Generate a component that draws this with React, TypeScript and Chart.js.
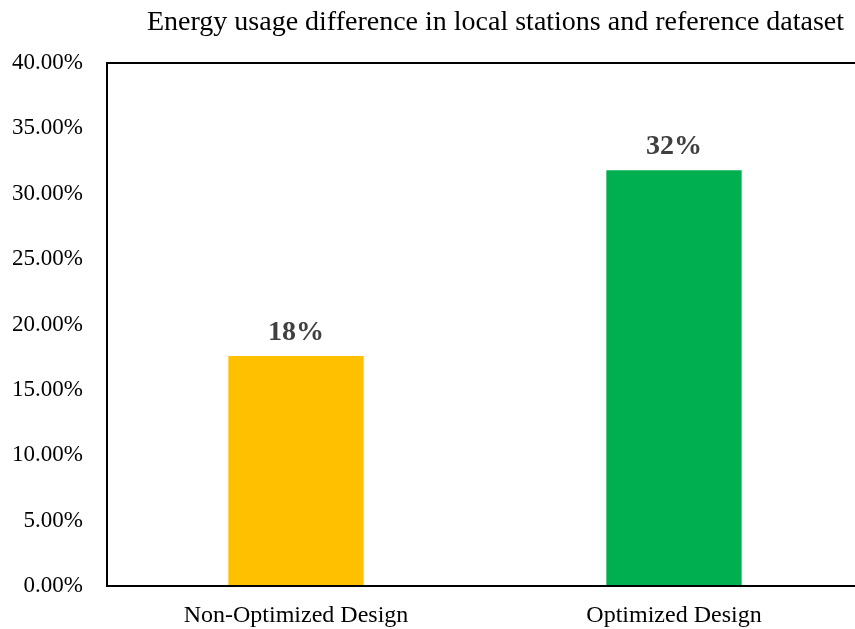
import React, { useEffect, useRef } from "react";
import { Chart, registerables } from "chart.js";

Chart.register(...registerables);

const title = "Energy usage difference in local stations and reference dataset";
const categories = ["Non-Optimized Design", "Optimized Design"];
const savings = [0.176, 0.318];
const barColors = ["#FFC000", "#00B050"];
const yTicks = { min: 0, max: 0.4, step: 0.05 };

const FONT = "'Liberation Serif', 'Times New Roman', serif";

const framePlugin = {
  id: "frame",
  afterDatasetsDraw(chart: any) {
    const { ctx, chartArea } = chart;
    ctx.save();
    ctx.strokeStyle = "#000";
    ctx.lineWidth = 2;
    ctx.strokeRect(chartArea.left, chartArea.top, chartArea.right - chartArea.left, chartArea.bottom - chartArea.top);
    ctx.restore();
  },
};

const valueLabels = {
  id: "valueLabels",
  afterDatasetsDraw(chart: any) {
    const { ctx } = chart;
    const meta = chart.getDatasetMeta(0);
    const data = chart.data.datasets[0].data as number[];
    ctx.save();
    ctx.font = `bold 28px ${FONT}`;
    ctx.fillStyle = "#404040";
    ctx.textAlign = "center";
    ctx.textBaseline = "alphabetic";
    meta.data.forEach((bar: any, i: number) => {
      ctx.fillText(`${Math.round(data[i] * 100)}%`, bar.x, bar.y - 16);
    });
    ctx.restore();
  },
};

const titlePlugin = {
  id: "plotTitle",
  afterDraw(chart: any) {
    const { ctx } = chart;
    ctx.save();
    ctx.font = `28px ${FONT}`;
    ctx.fillStyle = "#000";
    ctx.textAlign = "center";
    ctx.textBaseline = "alphabetic";
    ctx.fillText(title, 495.5, 29.5);
    ctx.restore();
  },
};

export default function App() {
  const canvasRef = useRef<HTMLCanvasElement | null>(null);

  useEffect(() => {
    if (!canvasRef.current) return;
    const chart = new Chart(canvasRef.current, {
      type: "bar",
      data: {
        labels: categories,
        datasets: [
          {
            data: savings,
            backgroundColor: barColors,
            borderWidth: 0,
            categoryPercentage: 1,
            barPercentage: 0.358,
          },
        ],
      },
      options: {
        responsive: false,
        animation: false,
        devicePixelRatio: 1,
        layout: { padding: { top: 63, right: 12, left: 0, bottom: 0 } },
        plugins: {
          legend: { display: false },
          tooltip: { enabled: false },
          title: { display: false },
        },
        scales: {
          x: {
            grid: { display: false, drawTicks: false },
            border: { display: false },
            ticks: {
              color: "#000",
              font: { family: FONT, size: 24 },
              padding: 15,
              maxRotation: 0,
            },
            afterFit(scale: any) {
              scale.height = 43;
            },
          },
          y: {
            min: yTicks.min,
            max: yTicks.max,
            grid: { display: false, drawTicks: false },
            border: { display: false },
            ticks: {
              stepSize: yTicks.step,
              color: "#000",
              font: { family: FONT, size: 23 },
              padding: 24,
              callback: (v: any) => `${(Number(v) * 100).toFixed(2)}%`,
            },
            afterFit(scale: any) {
              scale.width = 107;
            },
          },
        },
      },
      plugins: [framePlugin, valueLabels, titlePlugin],
    });
    return () => chart.destroy();
  }, []);

  return (
    <div
      style={{
        position: "absolute",
        left: 0,
        top: 0,
        width: 855,
        height: 629,
        overflow: "hidden",
        background: "#fff",
      }}
    >
      <canvas ref={canvasRef} width={875} height={629} />
    </div>
  );
}
